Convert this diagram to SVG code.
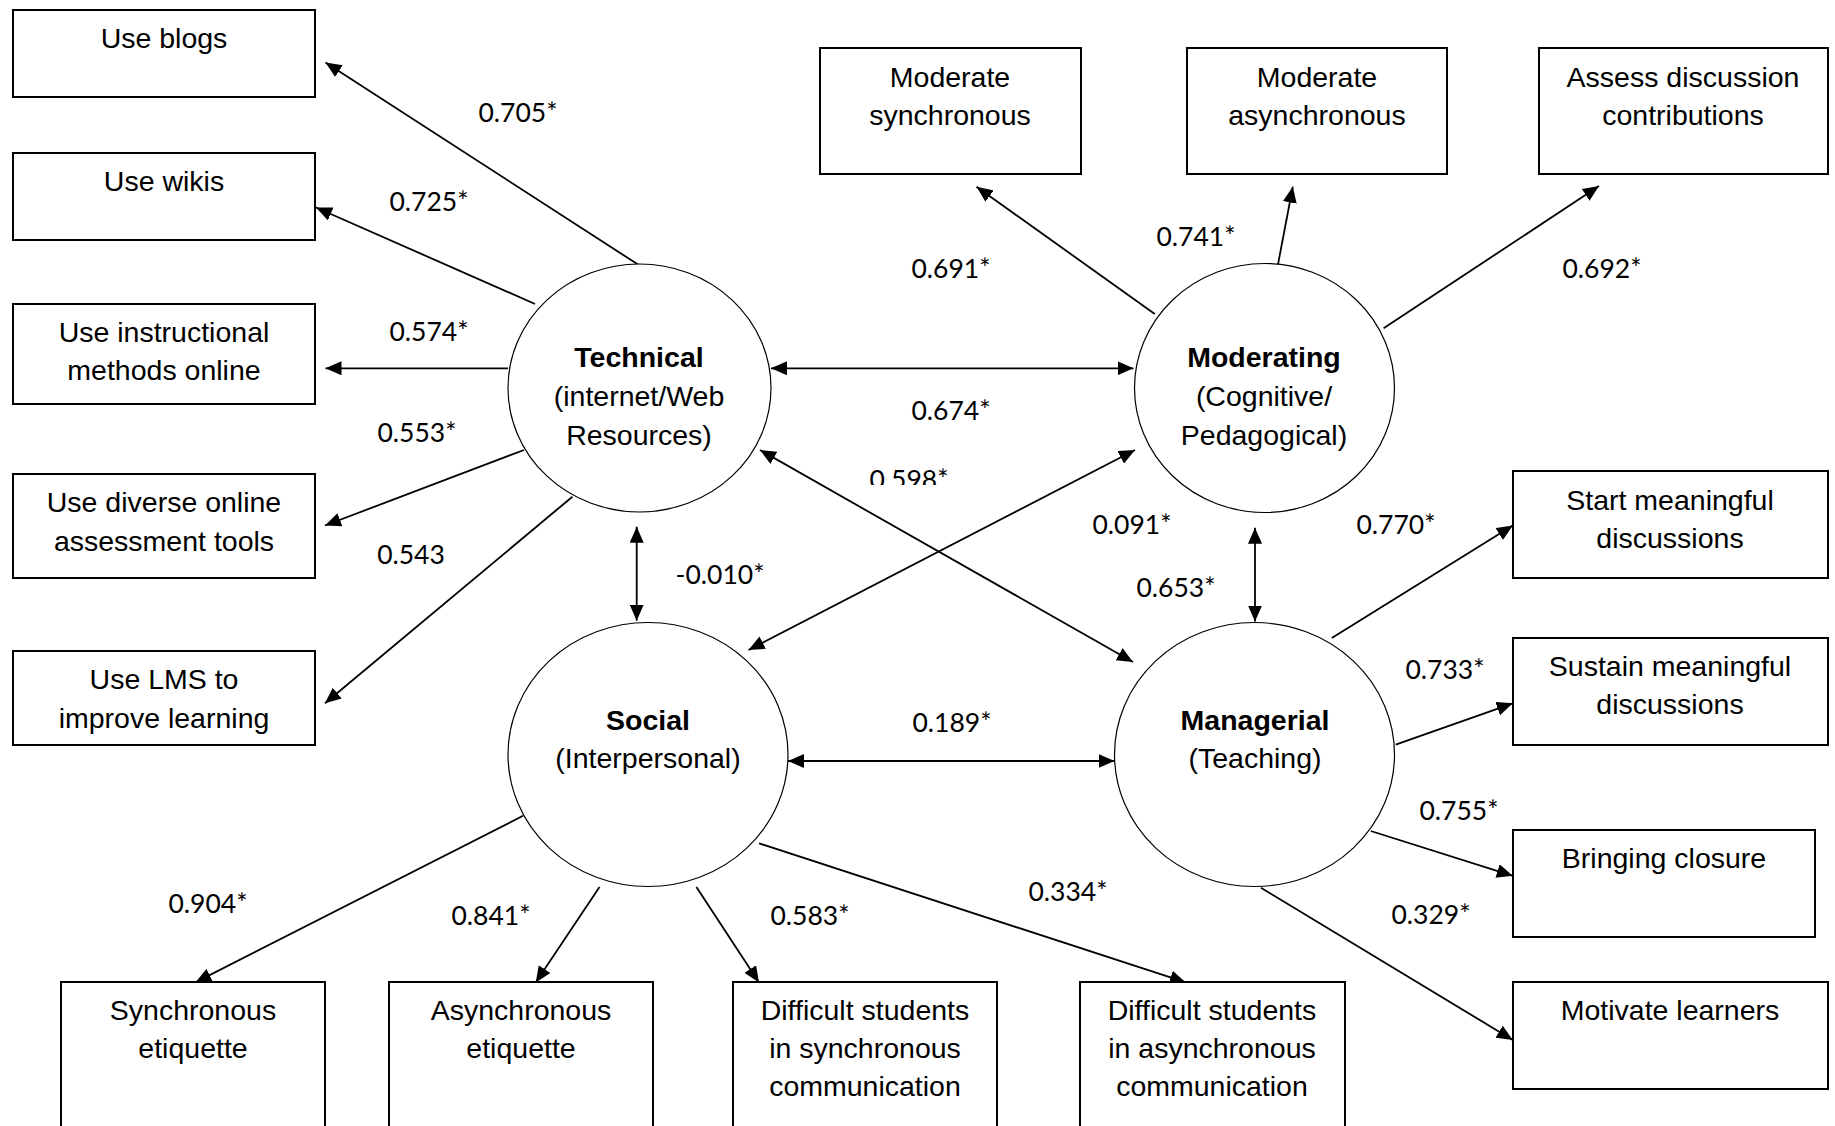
<svg xmlns="http://www.w3.org/2000/svg" width="1835" height="1126" viewBox="0 0 1835 1126">
<style>
.box{fill:#fff;stroke:#000;stroke-width:2}
.node{fill:#fff;stroke:#000;stroke-width:1.2}
.t{font-family:"Liberation Sans",Arial,sans-serif;font-size:28.5px;text-anchor:middle;fill:#000}
.b{font-weight:bold}
.lbl{font-family:Lato,"Liberation Sans",sans-serif;font-size:26.5px;text-anchor:middle;fill:#000}
.c line{stroke:#000;stroke-width:1.8;fill:none}
.one{marker-end:url(#ah)}
.two{marker-end:url(#ah);marker-start:url(#ah)}
</style>
<defs>
<marker id="ah" markerUnits="userSpaceOnUse" viewBox="0 0 16 14" refX="16" refY="7" markerWidth="16" markerHeight="14" orient="auto-start-reverse">
<path d="M0,0 L16,7 L0,14 z" fill="#000"/>
</marker>
<clipPath id="clip598"><rect x="850" y="455" width="120" height="30"/></clipPath>
</defs>
<rect width="1835" height="1126" fill="#fff"/>

<g id="connectors" class="c">
<line class="one" x1="638" y1="264.5" x2="325.5" y2="62.5"/>
<line class="one" x1="535" y1="304" x2="316" y2="207.5"/>
<line class="one" x1="508" y1="368.3" x2="325.5" y2="368.3"/>
<line class="one" x1="524" y1="450" x2="325" y2="525.5"/>
<line class="one" x1="572.4" y1="496.7" x2="325" y2="703.3"/>
<line class="two" x1="636.7" y1="526.7" x2="636.7" y2="620.7"/>
<line class="two" x1="771" y1="368.3" x2="1133.5" y2="368.3"/>
<line class="two" x1="760" y1="450" x2="1133" y2="662"/>
<line class="two" x1="748.5" y1="650" x2="1135" y2="450"/>
<line class="two" x1="1255" y1="527.8" x2="1255" y2="621.5"/>
<line class="two" x1="788" y1="761" x2="1114.5" y2="761"/>
<line class="one" x1="1154.8" y1="314" x2="976.5" y2="186.7"/>
<line class="one" x1="1278" y1="264.3" x2="1292.8" y2="186.7"/>
<line class="one" x1="1383.6" y1="328.3" x2="1599" y2="186"/>
<line class="one" x1="1331.8" y1="638" x2="1512.8" y2="525.5"/>
<line class="one" x1="1395.7" y1="744.7" x2="1512.8" y2="703.3"/>
<line class="one" x1="1370.8" y1="831" x2="1512.8" y2="875.8"/>
<line class="one" x1="1261" y1="887.8" x2="1512.8" y2="1040"/>
<line class="one" x1="523" y1="815.8" x2="195.4" y2="982.4"/>
<line class="one" x1="599.5" y1="886.9" x2="535.7" y2="982.4"/>
<line class="one" x1="696.4" y1="887" x2="759" y2="982.4"/>
<line class="one" x1="759" y1="843.3" x2="1185.8" y2="982.4"/>
</g>

<g id="technical">
<ellipse class="node" cx="639.5" cy="388" rx="131.5" ry="124"/>
<text class="t b" x="639" y="367">Technical</text>
<text class="t" x="639" y="406">(internet/Web</text>
<text class="t" x="639" y="445">Resources)</text>
</g>
<g id="moderating">
<ellipse class="node" cx="1264.5" cy="388" rx="130" ry="124.5"/>
<text class="t b" x="1264" y="367">Moderating</text>
<text class="t" x="1264" y="406">(Cognitive/</text>
<text class="t" x="1264" y="445">Pedagogical)</text>
</g>
<g id="social">
<ellipse class="node" cx="648" cy="754.5" rx="140" ry="132"/>
<text class="t b" x="648" y="730">Social</text>
<text class="t" x="648" y="768">(Interpersonal)</text>
</g>
<g id="managerial">
<ellipse class="node" cx="1254.5" cy="754.5" rx="140" ry="132"/>
<text class="t b" x="1255" y="730">Managerial</text>
<text class="t" x="1255" y="768">(Teaching)</text>
</g>

<g id="use-blogs"><rect class="box" x="13" y="10" width="302" height="87"/><text class="t" x="164" y="48">Use blogs</text></g>
<g id="use-wikis"><rect class="box" x="13" y="153" width="302" height="87"/><text class="t" x="164" y="191">Use wikis</text></g>
<g id="use-instructional"><rect class="box" x="13" y="304" width="302" height="100"/><text class="t" x="164" y="342">Use instructional</text><text class="t" x="164" y="380">methods online</text></g>
<g id="use-diverse"><rect class="box" x="13" y="474" width="302" height="104"/><text class="t" x="164" y="512">Use diverse online</text><text class="t" x="164" y="551">assessment tools</text></g>
<g id="use-lms"><rect class="box" x="13" y="651" width="302" height="94"/><text class="t" x="164" y="689">Use LMS to</text><text class="t" x="164" y="728">improve learning</text></g>

<g id="moderate-sync"><rect class="box" x="820" y="48" width="261" height="126"/><text class="t" x="950" y="87">Moderate</text><text class="t" x="950" y="125">synchronous</text></g>
<g id="moderate-async"><rect class="box" x="1187" y="48" width="260" height="126"/><text class="t" x="1317" y="87">Moderate</text><text class="t" x="1317" y="125">asynchronous</text></g>
<g id="assess"><rect class="box" x="1539" y="48" width="289" height="126"/><text class="t" x="1683" y="87">Assess discussion</text><text class="t" x="1683" y="125">contributions</text></g>

<g id="start"><rect class="box" x="1513" y="471" width="315" height="107"/><text class="t" x="1670" y="510">Start meaningful</text><text class="t" x="1670" y="548">discussions</text></g>
<g id="sustain"><rect class="box" x="1513" y="638" width="315" height="107"/><text class="t" x="1670" y="676">Sustain meaningful</text><text class="t" x="1670" y="714">discussions</text></g>
<g id="closure"><rect class="box" x="1513" y="830" width="302" height="107"/><text class="t" x="1664" y="868">Bringing closure</text></g>
<g id="motivate"><rect class="box" x="1513" y="982" width="315" height="107"/><text class="t" x="1670" y="1020">Motivate learners</text></g>

<g id="sync-etiquette"><rect class="box" x="61" y="982" width="264" height="160"/><text class="t" x="193" y="1020">Synchronous</text><text class="t" x="193" y="1058">etiquette</text></g>
<g id="async-etiquette"><rect class="box" x="389" y="982" width="264" height="160"/><text class="t" x="521" y="1020">Asynchronous</text><text class="t" x="521" y="1058">etiquette</text></g>
<g id="difficult-sync"><rect class="box" x="733" y="982" width="264" height="160"/><text class="t" x="865" y="1020">Difficult students</text><text class="t" x="865" y="1058">in synchronous</text><text class="t" x="865" y="1096">communication</text></g>
<g id="difficult-async"><rect class="box" x="1080" y="982" width="265" height="160"/><text class="t" x="1212" y="1020">Difficult students</text><text class="t" x="1212" y="1058">in asynchronous</text><text class="t" x="1212" y="1096">communication</text></g>

<g id="labels">
<text class="lbl" x="518" y="121.5">0.705*</text>
<text class="lbl" x="429" y="211">0.725*</text>
<text class="lbl" x="429" y="341">0.574*</text>
<text class="lbl" x="417" y="442">0.553*</text>
<text class="lbl" x="411" y="564">0.543</text>
<text class="lbl" x="720" y="584">-0.010*</text>
<text class="lbl" x="951" y="278">0.691*</text>
<text class="lbl" x="1196" y="246">0.741*</text>
<text class="lbl" x="1602" y="278">0.692*</text>
<text class="lbl" x="951" y="420">0.674*</text>
<text class="lbl" x="909" y="489" clip-path="url(#clip598)">0.598*</text>
<text class="lbl" x="1132" y="534">0.091*</text>
<text class="lbl" x="1396" y="534">0.770*</text>
<text class="lbl" x="1176" y="597">0.653*</text>
<text class="lbl" x="1445" y="679">0.733*</text>
<text class="lbl" x="952" y="732">0.189*</text>
<text class="lbl" x="1459" y="820">0.755*</text>
<text class="lbl" x="1431" y="924">0.329*</text>
<text class="lbl" x="1068" y="901">0.334*</text>
<text class="lbl" x="208" y="913">0.904*</text>
<text class="lbl" x="491" y="925">0.841*</text>
<text class="lbl" x="810" y="925">0.583*</text>
</g>
</svg>
